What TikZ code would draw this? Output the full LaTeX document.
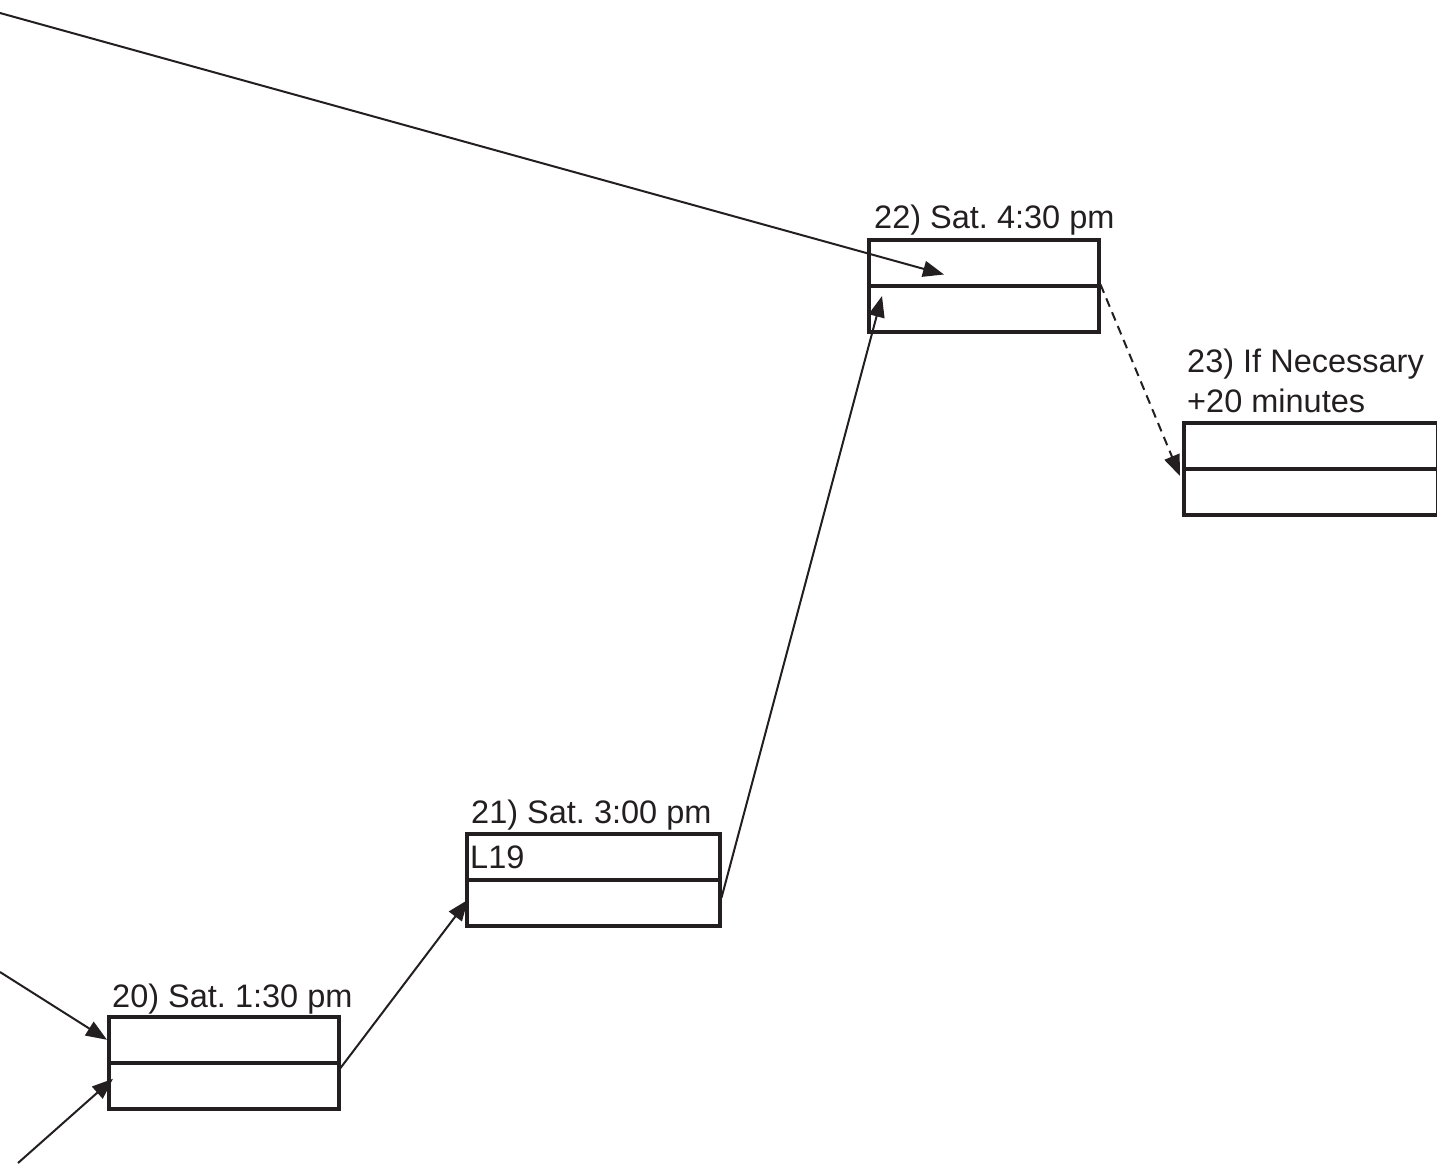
\documentclass[tikz,border=0pt]{standalone}
\usepackage{fontspec}
\setmainfont{Liberation Sans}
\usetikzlibrary{arrows.meta,calc}
\definecolor{ink}{HTML}{231F20}
\frenchspacing
\tikzset{
  cell/.style={draw=ink, line width=3.5pt, minimum width=230pt, minimum height=46pt, inner sep=0pt, anchor=north west},
  lbl/.style={text=ink, inner sep=0pt, anchor=base west, font=\fontsize{32.5}{40}\selectfont},
  conn/.style={draw=ink, line width=2pt, -{Triangle[length=21pt,width=16pt]}},
  dconn/.style={conn, dash pattern=on 9pt off 6pt}
}
\begin{document}
\begin{tikzpicture}[x=1pt,y=-1pt]
\useasboundingbox (0,0) rectangle (1437,1163);
% boxes
\node[cell] (b20t) at (107,1015) {};
\node[cell] (b20b) at (107,1061) {};
\node[cell, minimum width=253pt] (b21t) at (465,832) {};
\node[cell, minimum width=253pt] (b21b) at (465,878) {};
\node[cell] (b22t) at (867,238) {};
\node[cell] (b22b) at (867,284) {};
\node[cell, minimum width=254pt] (b23t) at (1182,421) {};
\node[cell, minimum width=254pt] (b23b) at (1182,467) {};
% labels
\node[lbl] (l20) at (112,1007) {20) Sat. 1:30 pm};
\node[lbl] (l21) at (471,823) {21) Sat. 3:00 pm};
\node[lbl] (l22) at (874,228) {22) Sat. 4:30 pm};
\node[lbl] (l23a) at (1187,372) {23) If Necessary};
\node[lbl] (l23b) at (1187,412) {+20 minutes};
\node[lbl] (l19) at (470,868) {L19};
% free ends
\coordinate (s1) at (0,13);
\coordinate (s2) at (0,972);
\coordinate (s3) at (18,1163);
% connectors
\draw[conn] (s1) -- ($(b22t.south west)+(77,-13)$);
\draw[conn] (s2) -- (b20t.west);
\draw[conn] (s3) -- ($(b20b.west)+(6,-7)$);
\draw[conn] ($(b20b.north east)+(0,7)$) -- ($(b21b.west)+(3,-3)$);
\draw[conn] ($(b21b.east)+(0,-5)$) -- ($(b22b.north west)+(15,12)$);
\draw[dconn] ($(b22t.south east)+(0,-3)$) -- ($(b23b.north west)+(-2,9)$);
\end{tikzpicture}
\end{document}
